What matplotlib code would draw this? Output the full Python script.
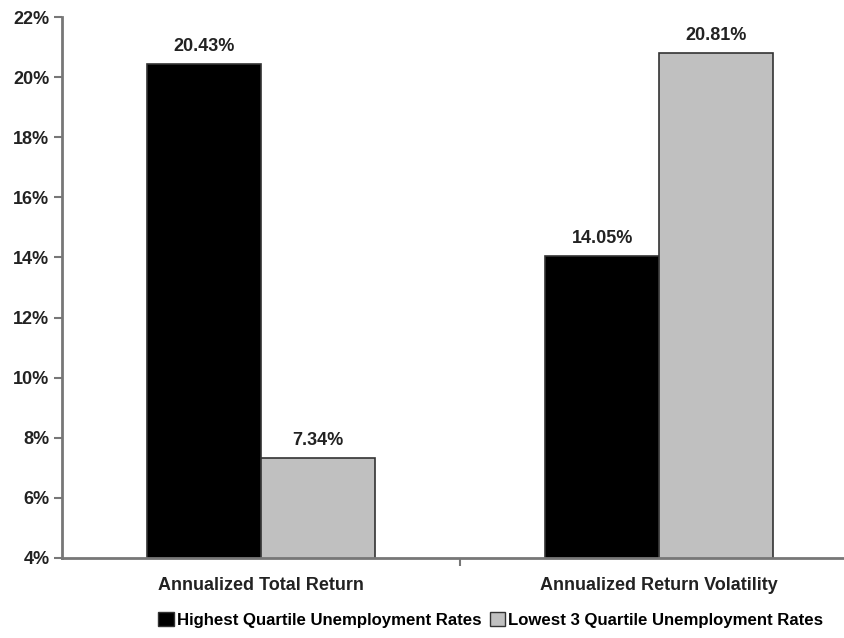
import matplotlib
matplotlib.use("Agg")
import matplotlib.pyplot as plt
import numpy as np
from matplotlib.patches import Patch

categories = ["Annualized Total Return", "Annualized Return Volatility"]
series_names = ["Highest Quartile Unemployment Rates", "Lowest 3 Quartile Unemployment Rates"]
highest = [20.43, 14.05]
lowest = [7.34, 20.81]
yticks = [4, 6, 8, 10, 12, 14, 16, 18, 20, 22]

plt.rcParams['font.family'] = ['Liberation Sans', 'DejaVu Sans']
plt.rcParams['font.weight'] = 'bold'

fig = plt.figure(figsize=(8.44, 6.38), dpi=100)
# axes from x=62 to ~858 px, y from 17 to 558 px
ax = fig.add_axes([62/844, 1 - 558/638, 796/844, (558-17)/638])

x = np.arange(len(categories))
w = 0.286
colors = ["#000000", "#C0C0C0"]
bars1 = ax.bar(x - w/2, highest, w, bottom=0, color=colors[0], edgecolor="#333333", linewidth=1.2)
bars2 = ax.bar(x + w/2, lowest, w, bottom=0, color=colors[1], edgecolor="#333333", linewidth=1.2)

for bars, vals in ((bars1, highest), (bars2, lowest)):
    for b, v in zip(bars, vals):
        ax.text(b.get_x() + b.get_width()/2, v + 0.3, f"{v:.2f}%", ha="center", va="bottom",
                fontsize=13, fontweight="bold", color="#222222")

ax.set_ylim(4, 22)
ax.set_xlim(-0.5, 1.5)
ax.set_yticks(yticks)
ax.set_yticklabels([f"{t}%" for t in yticks], fontsize=13, fontweight="bold", color="#222222")
ax.set_xticks([0.5], minor=False)
ax.set_xticklabels([""])
for i, c in enumerate(categories):
    ax.text(i, -0.035, c, transform=ax.get_xaxis_transform(), ha="center", va="top",
            fontsize=13, fontweight="bold", color="#222222")
ax.tick_params(axis="y", direction="out", length=6, width=1.5, color="#777777", pad=3)
ax.tick_params(axis="x", direction="out", length=6, width=1.5, color="#777777")
for s in ["top", "right"]:
    ax.spines[s].set_visible(False)
for s in ["left", "bottom"]:
    ax.spines[s].set_color("#777777")
    ax.spines[s].set_linewidth(2)

handles = [Patch(facecolor=colors[0], edgecolor="#333333"), Patch(facecolor=colors[1], edgecolor="#333333")]
fig.legend(handles, series_names, loc="center", bbox_to_anchor=(491/844, 1 - 620/638), ncol=2,
           frameon=False, handlelength=0.9, handleheight=0.9, handletextpad=0.2,
           columnspacing=0.5, prop={'weight': 'bold', 'size': 12.1})

fig.savefig("out.png", dpi=100)
